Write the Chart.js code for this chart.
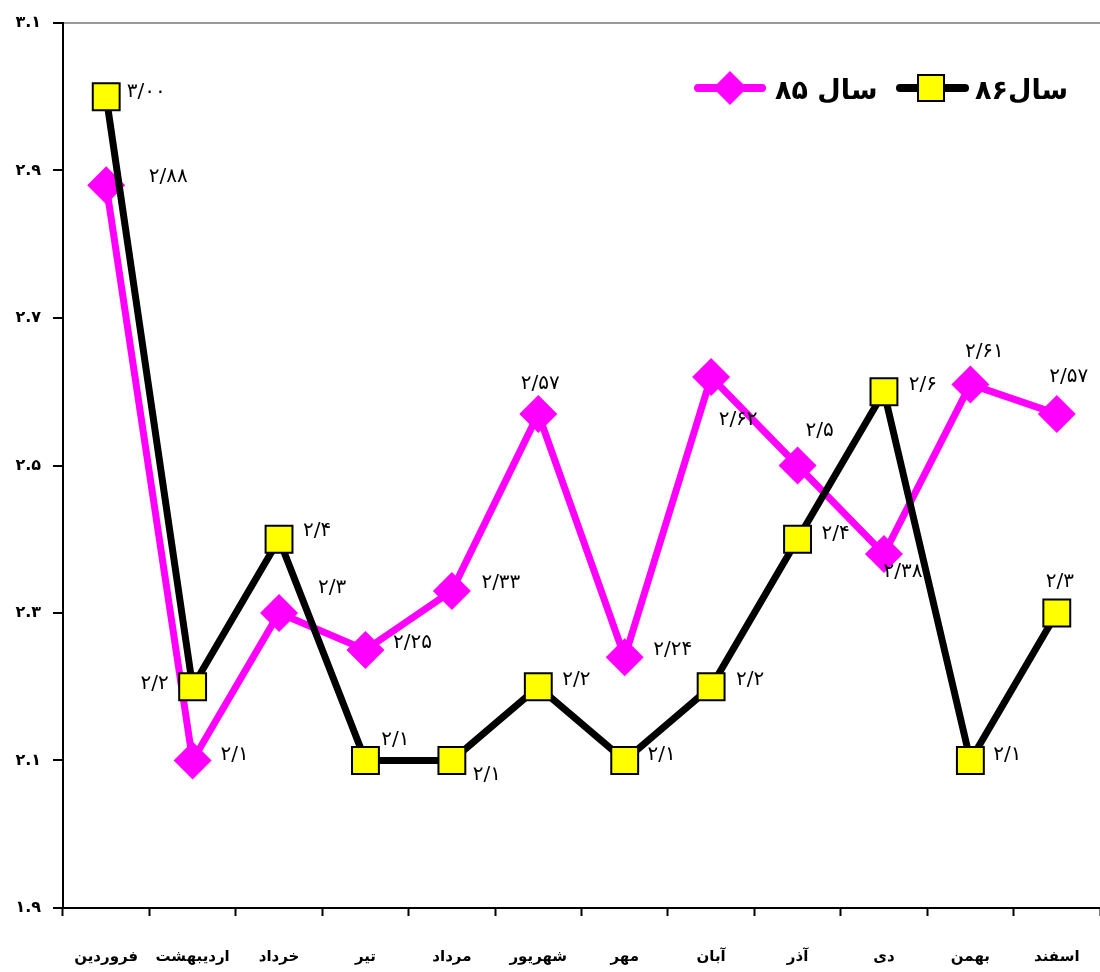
<!DOCTYPE html>
<html>
<head>
<meta charset="utf-8">
<script src="https://cdn.jsdelivr.net/npm/chart.js@4.4.0/dist/chart.umd.min.js"></script>
<style>
  html, body { margin: 0; padding: 0; background: #fff; }
  #wrap { width: 1100px; height: 972px; }
</style>
</head>
<body>
<div id="wrap"><canvas id="chart"></canvas></div>
<script>
const months = ['فروردین', 'اردیبهشت', 'خرداد', 'تیر', 'مرداد', 'شهریور', 'مهر', 'آبان', 'آذر', 'دی', 'بهمن', 'اسفند'];
const sal85 = [2.88, 2.10, 2.30, 2.25, 2.33, 2.57, 2.24, 2.62, 2.50, 2.38, 2.61, 2.57];
const sal86 = [3.00, 2.20, 2.40, 2.10, 2.10, 2.20, 2.10, 2.20, 2.40, 2.60, 2.10, 2.30];
const labels85 = ['۲/۸۸', '۲/۱', '۲/۳', '۲/۲۵', '۲/۳۳', '۲/۵۷', '۲/۲۴', '۲/۶۲', '۲/۵', '۲/۳۸', '۲/۶۱', '۲/۵۷'];
const labels86 = ['۳/۰۰', '۲/۲', '۲/۴', '۲/۱', '۲/۱', '۲/۲', '۲/۱', '۲/۲', '۲/۴', '۲/۶', '۲/۱', '۲/۳'];
const yTickLabels = ['۱.۹', '۲.۱', '۲.۳', '۲.۵', '۲.۷', '۲.۹', '۳.۱'];
const legendNames = ['سال ۸۵', 'سال۸۶'];

// where each value label sits, relative to its point
const off85 = [[62,-8],[42,-6],[53,-25],[47,-7],[49,-8],[2,-30],[48,-7],[27,43],[22,-35],[19,18],[14,-33],[12,-37]];
const off86 = [[40,-5],[-38,-3],[38,-8],[30,-21],[35,14],[38,-7],[37,-6],[39,-7],[38,-5],[39,-7],[37,-6],[3,-31]];

const FONT = '"DejaVu Sans", sans-serif';

const labelPlugin = {
  id: 'valueLabels',
  afterDatasetsDraw(chart) {
    const ctx = chart.ctx;
    ctx.save();
    ctx.font = '20px ' + FONT;
    ctx.fillStyle = '#000';
    ctx.textAlign = 'center';
    ctx.textBaseline = 'middle';
    const sets = [[0, labels85, off85], [1, labels86, off86]];
    sets.forEach(([di, txt, off]) => {
      chart.getDatasetMeta(di).data.forEach((pt, i) => {
        ctx.fillText(txt[i], pt.x + off[i][0], pt.y + off[i][1]);
      });
    });
    ctx.restore();
  },
  afterDraw(chart) {
    // legend inside the plot, top right
    const ctx = chart.ctx;
    ctx.save();
    ctx.lineCap = 'round';
    ctx.lineWidth = 8;
    // 85
    ctx.strokeStyle = '#ff00ff';
    ctx.beginPath(); ctx.moveTo(698, 88); ctx.lineTo(762, 88); ctx.stroke();
    ctx.fillStyle = '#ff00ff';
    ctx.beginPath();
    ctx.moveTo(730, 71); ctx.lineTo(747, 88); ctx.lineTo(730, 105); ctx.lineTo(713, 88);
    ctx.closePath(); ctx.fill();
    // 86
    ctx.strokeStyle = '#000';
    ctx.beginPath(); ctx.moveTo(900, 88); ctx.lineTo(965, 88); ctx.stroke();
    ctx.fillStyle = '#ffff00';
    ctx.lineWidth = 2;
    ctx.fillRect(918, 75, 26, 26);
    ctx.strokeRect(918, 75, 26, 26);

    ctx.fillStyle = '#000';
    ctx.font = 'bold 27px ' + FONT;
    ctx.textBaseline = 'middle';
    ctx.direction = 'rtl';
    ctx.textAlign = 'left';
    ctx.fillText(legendNames[0], 775, 92);
    ctx.fillText(legendNames[1], 975, 92);
    ctx.restore();
  }
};

new Chart(document.getElementById('chart'), {
  type: 'line',
  data: {
    labels: months,
    datasets: [
      {
        label: legendNames[0],
        data: sal85,
        order: 2,
        borderColor: '#ff00ff',
        borderWidth: 7,
        tension: 0,
        pointStyle: 'rectRot',
        pointRadius: 19,
        pointBackgroundColor: '#ff00ff',
        pointBorderColor: '#ff00ff',
        pointBorderWidth: 0
      },
      {
        label: legendNames[1],
        data: sal86,
        order: 1,
        borderColor: '#000',
        borderWidth: 7,
        tension: 0,
        pointStyle: 'rect',
        pointRadius: 19,
        pointBackgroundColor: '#ffff00',
        pointBorderColor: '#000',
        pointBorderWidth: 2
      }
    ]
  },
  options: {
    responsive: true,
    maintainAspectRatio: false,
    animation: false,
    events: [],
    layout: { autoPadding: false, padding: { top: 23, left: 0, right: -3, bottom: 0 } },
    plugins: {
      legend: { display: false },
      tooltip: { enabled: false }
    },
    scales: {
      x: {
        offset: true,
        afterFit: s => { s.height = 64; s.paddingLeft = 0; s.paddingRight = 0; },
        border: { color: '#000', width: 2 },
        grid: { display: true, offset: true, drawOnChartArea: false, tickLength: 8, tickColor: '#000', tickWidth: 2 },
        ticks: { color: '#000', padding: 32, font: { family: FONT, size: 15, weight: 'bold' }, maxRotation: 0, autoSkip: false }
      },
      y: {
        min: 1.9,
        max: 3.1,
        afterFit: s => { s.width = 63; },
        border: { color: '#000', width: 2 },
        grid: {
          drawOnChartArea: true,
          color: c => (c.index === 6 ? '#999' : 'rgba(0,0,0,0)'),
          lineWidth: 2,
          tickLength: 10,
          tickColor: '#000',
          tickWidth: 2
        },
        ticks: {
          stepSize: 0.2,
          color: '#000',
          padding: 12,
          font: { family: FONT, size: 16, weight: 'bold' },
          callback: (v, i) => yTickLabels[i]
        }
      }
    }
  },
  plugins: [labelPlugin]
});
</script>
</body>
</html>
